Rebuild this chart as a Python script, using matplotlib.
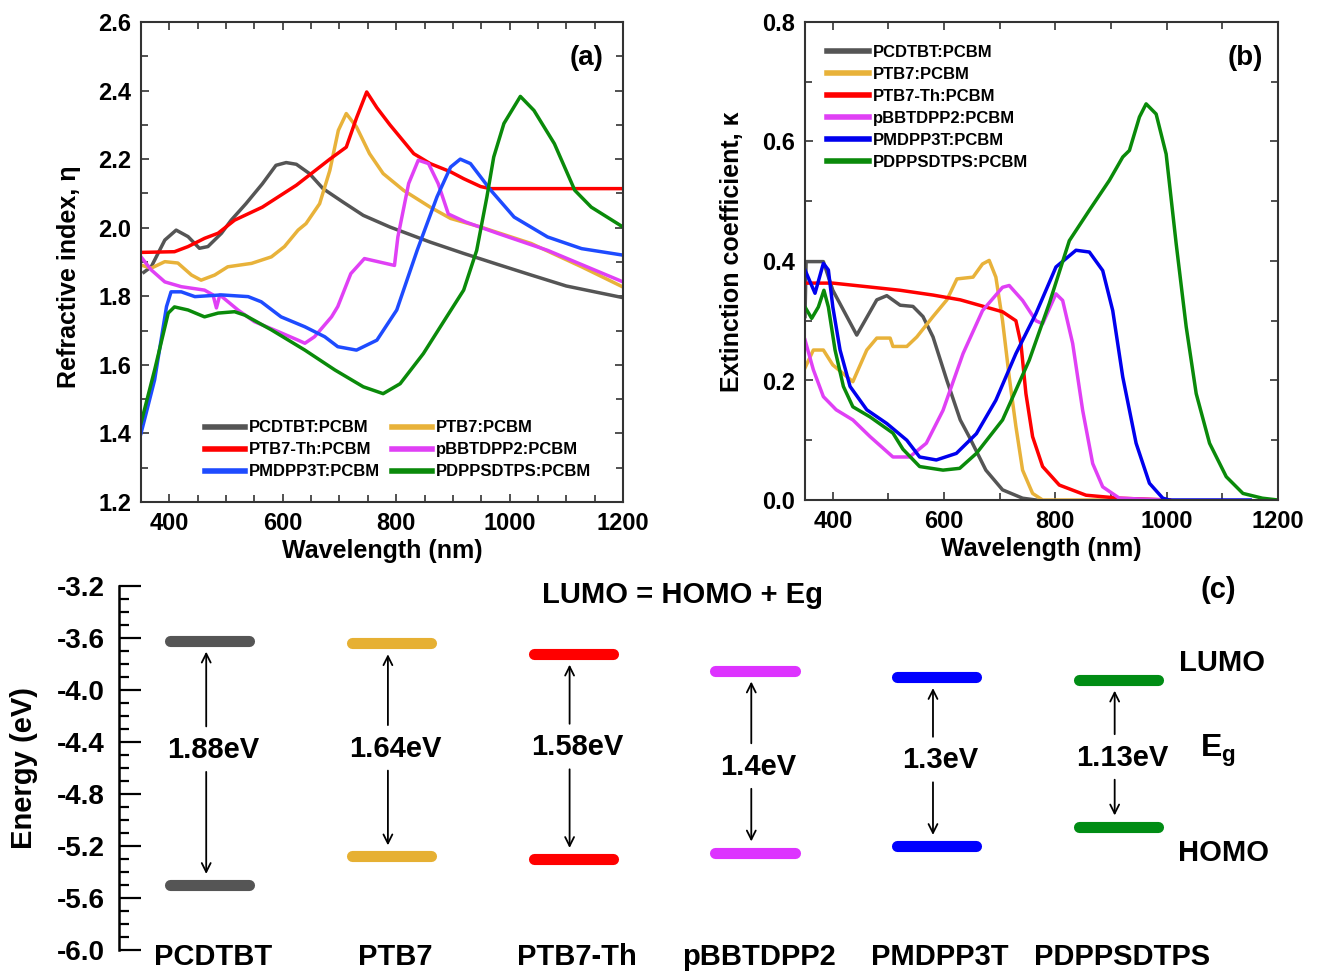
### optical constants (n, k) of polymer:PCBM blends and energy levels
import numpy as np
import matplotlib
matplotlib.use('Agg')
import matplotlib.pyplot as plt
from matplotlib.ticker import MultipleLocator

plt.rcParams['font.family'] = ['Liberation Sans', 'DejaVu Sans']
plt.rcParams['font.weight'] = 'bold'
plt.rcParams['axes.unicode_minus'] = False
plt.rcParams['mathtext.fontset'] = 'custom'
plt.rcParams['mathtext.rm'] = 'Liberation Sans:bold'
plt.rcParams['mathtext.bf'] = 'Liberation Sans:bold'

### names
blends = ['PCDTBT:PCBM', 'PTB7:PCBM', 'PTB7-Th:PCBM',
          'pBBTDPP2:PCBM', 'PMDPP3T:PCBM', 'PDPPSDTPS:PCBM']
polymers = ['PCDTBT', 'PTB7', 'PTB7-Th', 'pBBTDPP2', 'PMDPP3T', 'PDPPSDTPS']

### (a) refractive index
wl_n_pcdtbt = [355, 368, 392, 412, 433, 453, 468, 492, 509, 535, 564, 588, 606, 624, 647,
               671, 706, 742, 789, 860, 919, 979, 1038, 1100, 1200]
n_pcdtbt = [1.87, 1.886, 1.964, 1.993, 1.974, 1.94, 1.945, 1.984, 2.022, 2.07, 2.128, 2.182,
            2.19, 2.185, 2.158, 2.114, 2.075, 2.036, 2.002, 1.958, 1.925, 1.893, 1.862, 1.83, 1.796]

wl_n_ptb7 = [350, 368, 392, 415, 439, 456, 480, 503, 545, 580, 603, 627, 641, 665, 683, 698,
             712, 730, 753, 777, 813, 860, 896, 949, 1038, 1127, 1200]
n_ptb7 = [1.891, 1.882, 1.901, 1.897, 1.862, 1.847, 1.862, 1.886, 1.896, 1.915, 1.945, 1.993,
          2.012, 2.07, 2.167, 2.284, 2.333, 2.294, 2.216, 2.158, 2.109, 2.06, 2.027, 2.002,
          1.954, 1.886, 1.827]

wl_n_ptb7th = [350, 409, 433, 462, 486, 515, 564, 624, 683, 712, 730, 748, 766, 789, 831,
               860, 896, 919, 949, 966, 1200]
n_ptb7th = [1.928, 1.93, 1.945, 1.969, 1.984, 2.022, 2.06, 2.124, 2.20, 2.235, 2.32, 2.396,
            2.35, 2.30, 2.216, 2.187, 2.163, 2.143, 2.12, 2.114, 2.114]

wl_n_pbbtdpp2 = [350, 368, 392, 421, 462, 477, 483, 489, 521, 550, 592, 627, 639, 656, 686,
                 697, 720, 744, 797, 803, 822, 839, 857, 874, 892, 922, 980, 1067, 1200]
n_pbbtdpp2 = [1.915, 1.877, 1.842, 1.828, 1.818, 1.804, 1.766, 1.804, 1.76, 1.726, 1.697,
              1.672, 1.663, 1.682, 1.74, 1.77, 1.866, 1.91, 1.89, 1.973, 2.129, 2.197, 2.187,
              2.129, 2.04, 2.017, 1.983, 1.934, 1.842]

wl_n_pmdpp3t = [350, 374, 395, 403, 421, 445, 492, 539, 562, 597, 639, 674, 697, 730, 766,
                801, 837, 872, 896, 913, 931, 967, 1008, 1067, 1127, 1200]
n_pmdpp3t = [1.40, 1.556, 1.77, 1.813, 1.813, 1.799, 1.804, 1.799, 1.784, 1.74, 1.711, 1.682,
             1.653, 1.643, 1.672, 1.76, 1.934, 2.09, 2.177, 2.20, 2.187, 2.109, 2.031, 1.973,
             1.939, 1.92]

wl_n_pdppsdtps = [350, 374, 398, 409, 433, 462, 486, 515, 533, 580, 639, 692, 742, 777, 807,
                  848, 889, 919, 942, 960, 972, 990, 1019, 1043, 1079, 1115, 1144, 1200]
n_pdppsdtps = [1.43, 1.585, 1.751, 1.769, 1.76, 1.74, 1.751, 1.755, 1.745, 1.702, 1.643,
               1.585, 1.536, 1.516, 1.545, 1.633, 1.74, 1.818, 1.934, 2.09, 2.206, 2.304,
               2.383, 2.342, 2.245, 2.109, 2.06, 2.002]

### (b) extinction coefficient
wl_k_pcdtbt = [350, 352, 383, 400, 443, 479, 497, 521, 544, 562, 580, 605, 629, 645, 675,
               705, 741, 765]
k_pcdtbt = [0.307, 0.399, 0.399, 0.351, 0.276, 0.335, 0.342, 0.326, 0.324, 0.307, 0.273,
            0.20, 0.134, 0.106, 0.05, 0.017, 0.003, 0.0]

wl_k_ptb7 = [350, 365, 383, 400, 436, 461, 479, 503, 508, 533, 551, 580, 605, 623, 652, 669,
             681, 693, 705, 717, 729, 741, 759, 777, 1000]
k_ptb7 = [0.221, 0.251, 0.251, 0.226, 0.198, 0.251, 0.271, 0.271, 0.257, 0.257, 0.273, 0.307,
          0.335, 0.37, 0.373, 0.395, 0.401, 0.373, 0.30, 0.206, 0.123, 0.05, 0.011, 0.0, 0.0]

wl_k_ptb7th = [350, 400, 461, 521, 580, 629, 705, 729, 738, 747, 759, 777, 807, 855, 915, 1005]
k_ptb7th = [0.363, 0.363, 0.357, 0.351, 0.343, 0.335, 0.315, 0.30, 0.262, 0.178, 0.106, 0.056,
            0.025, 0.008, 0.003, 0.0]

wl_k_pbbtdpp2 = [350, 365, 383, 406, 436, 467, 508, 538, 568, 598, 634, 669, 705, 717, 741,
                 765, 777, 801, 813, 831, 849, 867, 885, 915, 1000]
k_pbbtdpp2 = [0.268, 0.218, 0.173, 0.151, 0.134, 0.106, 0.072, 0.072, 0.095, 0.15, 0.245,
              0.317, 0.356, 0.359, 0.334, 0.30, 0.295, 0.345, 0.334, 0.262, 0.15, 0.061, 0.022,
              0.003, 0.0]

wl_k_pmdpp3t = [350, 368, 383, 392, 400, 413, 431, 461, 497, 533, 556, 586, 622, 658, 693,
                729, 765, 801, 837, 861, 885, 903, 921, 945, 969, 993, 1005, 1150]
k_pmdpp3t = [0.385, 0.346, 0.396, 0.385, 0.323, 0.251, 0.19, 0.151, 0.128, 0.10, 0.072, 0.067,
             0.078, 0.111, 0.167, 0.245, 0.312, 0.39, 0.418, 0.415, 0.384, 0.317, 0.206, 0.095,
             0.028, 0.003, 0.0, 0.0]

wl_k_pdppsdtps = [350, 362, 374, 384, 392, 404, 419, 436, 467, 508, 526, 556, 598, 628, 658,
                  705, 753, 789, 825, 861, 897, 921, 933, 951, 963, 981, 999, 1017, 1035, 1053,
                  1077, 1107, 1137, 1172, 1200]
k_pdppsdtps = [0.323, 0.304, 0.323, 0.351, 0.323, 0.251, 0.19, 0.156, 0.139, 0.112, 0.085,
               0.056, 0.05, 0.053, 0.078, 0.134, 0.234, 0.329, 0.434, 0.485, 0.535, 0.574,
               0.585, 0.641, 0.663, 0.646, 0.579, 0.429, 0.29, 0.178, 0.095, 0.039, 0.011,
               0.003, 0.0]

### (c) energy levels (eV)
lumo = [-3.62, -3.64, -3.72, -3.85, -3.90, -3.92]
homo = [-5.50, -5.28, -5.30, -5.25, -5.20, -5.05]
gap_labels = ['1.88eV', '1.64eV', '1.58eV', '1.4eV', '1.3eV', '1.13eV']
gap_label_y = [-4.46, -4.45, -4.44, -4.59, -4.54, -4.52]

colors_a = ['#555555', '#E8B23A', '#FF0000', '#E040F5', '#1E4BFF', '#0A8A0A']
colors_b = ['#555555', '#E8B23A', '#FF0000', '#E040F5', '#0000EE', '#0A8A0A']
colors_c = ['#555555', '#E6B033', '#FF0000', '#DD33FF', '#0000FF', '#008C14']

W, H = 1329, 972


def px_axes(fig, left, top, right, bottom):
    return fig.add_axes([left / W, 1 - bottom / H, (right - left) / W, (bottom - top) / H])


def style_top_axes(ax, ymajor, yminor, xminor):
    ax.set_xlim(350, 1200)
    ax.xaxis.set_major_locator(MultipleLocator(200))
    ax.xaxis.set_minor_locator(MultipleLocator(xminor))
    ax.yaxis.set_major_locator(MultipleLocator(ymajor))
    ax.yaxis.set_minor_locator(MultipleLocator(yminor))
    ax.tick_params(which='both', direction='in', top=True, right=True,
                   width=1.2, color='#333333', labelsize=17, pad=7)
    ax.tick_params(which='major', length=6)
    ax.tick_params(which='minor', length=5)
    for s in ax.spines.values():
        s.set_linewidth(1.5)
        s.set_color('#333333')
    for lab in ax.get_xticklabels() + ax.get_yticklabels():
        lab.set_fontweight('bold')
    ax.set_xlabel('Wavelength (nm)', fontsize=18, fontweight='bold')
    ax.xaxis.set_label_coords(0.5, -0.077)


fig = plt.figure(figsize=(W / 100, H / 100), dpi=100)

### panel (a)
ax_a = px_axes(fig, 141, 22, 623, 502)
wl_n = [wl_n_pcdtbt, wl_n_ptb7, wl_n_ptb7th, wl_n_pbbtdpp2, wl_n_pmdpp3t, wl_n_pdppsdtps]
n_all = [n_pcdtbt, n_ptb7, n_ptb7th, n_pbbtdpp2, n_pmdpp3t, n_pdppsdtps]
for i in range(6):
    ax_a.plot(wl_n[i], n_all[i], color=colors_a[i], lw=2.5, label=blends[i])
ax_a.set_ylim(1.2, 2.6)
style_top_axes(ax_a, 0.2, 0.1, 50)
ax_a.set_ylabel('Refractive index, \u03b7', fontsize=18, fontweight='bold')
ax_a.yaxis.set_label_coords(-0.125, 0.47)
ax_a.text(0.925, 0.925, '(a)', transform=ax_a.transAxes, fontsize=20,
          fontweight='bold', ha='center', va='center')
# legend order: row by row, two columns
order = [0, 2, 4, 1, 3, 5]
hs, ls = ax_a.get_legend_handles_labels()
leg = ax_a.legend([hs[j] for j in order], [ls[j] for j in order], ncol=2,
                  loc='lower left', bbox_to_anchor=(0.133, 0.047), frameon=False,
                  fontsize=12, handlelength=2.4, handletextpad=0.25, columnspacing=0.7,
                  labelspacing=0.42, borderpad=0, borderaxespad=0)
for line in leg.get_lines():
    line.set_linewidth(4)

### panel (b)
ax_b = px_axes(fig, 805, 22, 1278, 500)
wl_k = [wl_k_pcdtbt, wl_k_ptb7, wl_k_ptb7th, wl_k_pbbtdpp2, wl_k_pmdpp3t, wl_k_pdppsdtps]
k_all = [k_pcdtbt, k_ptb7, k_ptb7th, k_pbbtdpp2, k_pmdpp3t, k_pdppsdtps]
for i in range(6):
    ax_b.plot(wl_k[i], k_all[i], color=colors_b[i], lw=2.5, label=blends[i])
ax_b.set_ylim(0.0, 0.8)
style_top_axes(ax_b, 0.2, 0.1, 100)
ax_b.set_ylabel('Extinction coefficient, \u03ba', fontsize=18, fontweight='bold')
ax_b.yaxis.set_label_coords(-0.13, 0.52)
ax_b.text(0.93, 0.925, '(b)', transform=ax_b.transAxes, fontsize=20,
          fontweight='bold', ha='center', va='center')
leg = ax_b.legend(loc='upper left', bbox_to_anchor=(0.047, 0.952), frameon=False,
                  fontsize=12, handlelength=2.5, handletextpad=0.25,
                  labelspacing=0.42, borderpad=0, borderaxespad=0)
for line in leg.get_lines():
    line.set_linewidth(4)

### panel (c) energy diagram
ax_c = px_axes(fig, 119, 586, 1300, 950)
ax_c.set_xlim(-0.5, 6.0)
ax_c.set_ylim(-6.0, -3.2)
for s in ['top', 'right', 'bottom']:
    ax_c.spines[s].set_visible(False)
ax_c.spines['left'].set_linewidth(1.8)
ax_c.set_xticks([])
ax_c.yaxis.set_minor_locator(MultipleLocator(0.1))
ax_c.tick_params(axis='y', which='both', direction='in', width=1.6, labelsize=20, pad=10)
ax_c.tick_params(axis='y', which='major', length=16)
ax_c.tick_params(axis='y', which='minor', length=7)
ax_c.set_yticks(np.arange(-6.0, -3.19, 0.4))
ax_c.set_yticklabels(['%.1f' % v for v in np.arange(-6.0, -3.19, 0.4)], fontweight='bold')
ax_c.set_ylabel('Energy (eV)', fontsize=21, fontweight='bold')
ax_c.yaxis.set_label_coords(-0.069, 0.5)

half = 0.218
for i in range(6):
    c = colors_c[i]
    ax_c.plot([i - half, i + half], [lumo[i], lumo[i]], color=c, lw=8,
              solid_capstyle='round')
    ax_c.plot([i - half, i + half], [homo[i], homo[i]], color=c, lw=8,
              solid_capstyle='round')
    ax_c.text(i + 0.02, gap_label_y[i], gap_labels[i], fontsize=21, fontweight='bold',
              ha='center', va='center')
    ax_c.annotate('', xy=(i - 0.02, lumo[i] - 0.085), xytext=(i - 0.02, gap_label_y[i] + 0.18),
                  arrowprops=dict(arrowstyle='->', lw=1.3, color='k',
                                  shrinkA=0, shrinkB=0, mutation_scale=16))
    ax_c.annotate('', xy=(i - 0.02, homo[i] + 0.085), xytext=(i - 0.02, gap_label_y[i] - 0.17),
                  arrowprops=dict(arrowstyle='->', lw=1.3, color='k',
                                  shrinkA=0, shrinkB=0, mutation_scale=16))
    ax_c.text(i + 0.02, -6.05, polymers[i], fontsize=21, fontweight='bold',
              ha='center', va='center', clip_on=False)

ax_c.text(2.6, -3.27, 'LUMO = HOMO + Eg', fontsize=21, fontweight='bold',
          ha='center', va='center')
ax_c.text(5.55, -3.23, '(c)', fontsize=21, fontweight='bold', ha='center', va='center')
ax_c.text(5.57, -3.79, 'LUMO', fontsize=21, fontweight='bold', ha='center', va='center')
ax_c.text(5.55, -4.47, r'$\mathbf{E_g}$', fontsize=23, ha='center', va='center')
ax_c.text(5.58, -5.25, 'HOMO', fontsize=21, fontweight='bold', ha='center', va='center')

fig.savefig('out.png', dpi=100)
